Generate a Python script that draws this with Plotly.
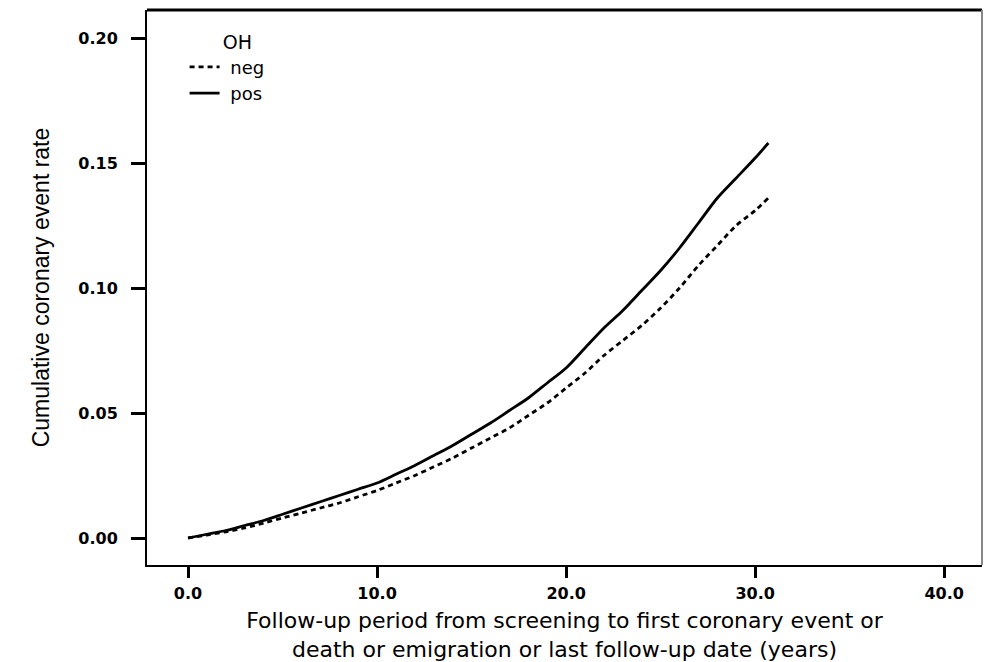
import plotly.graph_objects as go

# Data (years, cumulative coronary event rate)
years_pos = [0, 1, 2, 3, 4, 5, 6, 7, 8, 9, 10, 11, 12, 13, 14, 15, 16, 17, 18, 19, 20,
             21, 22, 23, 24, 25, 26, 27, 28, 29, 30, 30.7]
rate_pos = [0.000, 0.0015, 0.003, 0.005, 0.007, 0.0095, 0.012, 0.0145, 0.017, 0.0195, 0.022,
            0.0255, 0.029, 0.033, 0.037, 0.0415, 0.046, 0.051, 0.056, 0.062, 0.068,
            0.076, 0.084, 0.091, 0.099, 0.107, 0.116, 0.126, 0.136, 0.144, 0.152, 0.158]

years_neg = [0, 1, 2, 3, 4, 5, 6, 7, 8, 9, 10, 11, 12, 13, 14, 15, 16, 17, 18, 19, 20,
             21, 22, 23, 24, 25, 26, 27, 28, 29, 30, 30.7]
rate_neg = [0.000, 0.0012, 0.0025, 0.004, 0.006, 0.008, 0.010, 0.012, 0.014, 0.0165, 0.019,
            0.022, 0.025, 0.0285, 0.032, 0.036, 0.040, 0.044, 0.049, 0.054, 0.060,
            0.066, 0.073, 0.079, 0.085, 0.092, 0.100, 0.109, 0.117, 0.125, 0.131, 0.136]

x_ticks = [0, 10, 20, 30, 40]
x_tick_labels = ["0.0", "10.0", "20.0", "30.0", "40.0"]
y_ticks = [0.00, 0.05, 0.10, 0.15, 0.20]
y_tick_labels = ["0.00", "0.05", "0.10", "0.15", "0.20"]

fig = go.Figure()
fig.add_trace(go.Scatter(x=years_neg, y=rate_neg, mode="lines", name="\u00a0neg",
                         line=dict(color="black", width=2.8, dash="5px,4px",
                                   shape="spline", smoothing=0.8)))
fig.add_trace(go.Scatter(x=years_pos, y=rate_pos, mode="lines", name="\u00a0pos",
                         line=dict(color="black", width=2.8,
                                   shape="spline", smoothing=0.8)))

fig.update_layout(
    width=984, height=662,
    margin=dict(l=147, r=2, t=10, b=97),
    paper_bgcolor="white", plot_bgcolor="white",
    font=dict(family="DejaVu Sans, Liberation Sans, sans-serif", color="black"),
    legend=dict(
        title=dict(text="\u00a0\u00a0\u00a0\u00a0\u00a0\u00a0OH", font=dict(size=19)),
        x=0.045, y=0.975, xanchor="left", yanchor="top",
        bgcolor="rgba(0,0,0,0)", font=dict(size=18),
        tracegroupgap=0, itemwidth=30,
    ),
    xaxis=dict(
        range=[-2.17, 42.0], tickvals=x_ticks, ticktext=x_tick_labels,
        showgrid=False, zeroline=False,
        showline=True, linecolor="black", linewidth=2,
        ticks="outside", ticklen=11, tickwidth=2.5, tickcolor="black",
        tickfont=dict(size=16, weight="bold"), ticklabelstandoff=2,
        title=dict(text="Follow-up period from screening to first coronary event or<br>death or emigration or last follow-up date (years)",
                   font=dict(size=22), standoff=13),
    ),
    yaxis=dict(
        range=[-0.0108, 0.2112], tickvals=y_ticks, ticktext=y_tick_labels,
        showgrid=False, zeroline=False,
        showline=True, linecolor="black", linewidth=2,
        ticks="outside", ticklen=14, tickwidth=2.5, tickcolor="black",
        tickfont=dict(size=16, weight="bold"), ticklabelstandoff=10,
        title=dict(text="Cumulative coronary event rate",
                   font=dict(size=23, family="Liberation Sans, sans-serif"),
                   standoff=22),
    ),
    shapes=[
        dict(type="line", xref="paper", yref="paper", x0=0, x1=1, y0=1, y1=1,
             line=dict(color="black", width=3)),
        dict(type="line", xref="paper", yref="paper", x0=1, x1=1, y0=0, y1=1,
             line=dict(color="#888888", width=2)),
    ],
)

fig.write_html("out.html")
